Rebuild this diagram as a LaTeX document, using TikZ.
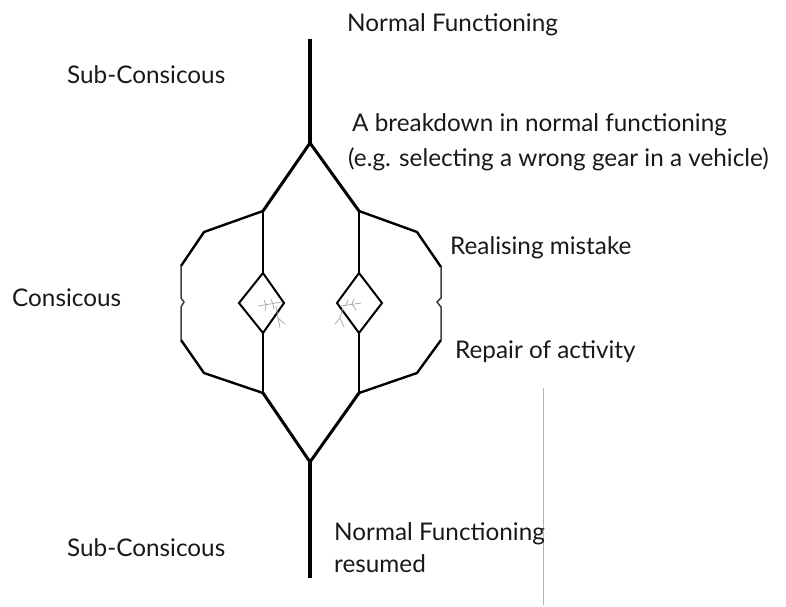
\documentclass[tikz,border=0pt]{standalone}
\usepackage{fontspec}
\setmainfont{Lato}
\begin{document}
\begin{tikzpicture}[x=1pt,y=-1pt,
  trunk/.style={line width=4pt},
  branch/.style={line width=3pt, line join=miter},
  loopline/.style={line width=2.4pt, line join=round},
  thinside/.style={line width=1.5pt, draw=black!75},
  gate/.style={line width=2pt, line join=miter},
  twig/.style={line width=0.7pt, draw=black!35, line cap=round},
  lbl/.style={anchor=base west, inner sep=0pt, font=\fontsize{24.3}{29}\selectfont, text=black!90}]
\useasboundingbox (0,0) rectangle (786,606);

% key points of the path diagram
\coordinate (top) at (310,39);
\coordinate (split) at (310,143);
\coordinate (join) at (310,462);
\coordinate (bottom) at (310,578);
\coordinate (lt) at (263,211);
\coordinate (lb) at (263,393);
\coordinate (rt) at (359,211);
\coordinate (rb) at (359,393);

% left and right gates
\coordinate (ldt) at (263,273);
\coordinate (ldb) at (263,333);
\coordinate (ldl) at (239,303);
\coordinate (ldr) at (284,303);
\coordinate (rdt) at (359,273);
\coordinate (rdb) at (359,333);
\coordinate (rdl) at (337,303);
\coordinate (rdr) at (382,303);

% main stem
\draw[trunk] (top) -- (split);
\draw[trunk] (join) -- (bottom);
\draw[branch] (lt) -- (split) -- (rt);
\draw[branch] (lb) -- (join) -- (rb);

% inner paths through the gates
\draw[loopline] (lt) -- (ldt);
\draw[loopline] (ldb) -- (lb);
\draw[loopline] (rt) -- (rdt);
\draw[loopline] (rdb) -- (rb);
\draw[gate] (ldt) -- (ldr) -- (ldb) -- (ldl) -- cycle;
\draw[gate] (rdt) -- (rdr) -- (rdb) -- (rdl) -- cycle;

% outer detours
\coordinate (lo1) at (204,232);
\coordinate (lo2) at (181,266);
\coordinate (lo3) at (181,340);
\coordinate (lo4) at (204,373);
\coordinate (ro1) at (417,232);
\coordinate (ro2) at (441,267);
\coordinate (ro3) at (441,340);
\coordinate (ro4) at (417,373);
\draw[loopline] (lt) -- (lo1) -- (lo2);
\draw[loopline] (lo3) -- (lo4) -- (lb);
\draw[loopline] (rt) -- (ro1) -- (ro2);
\draw[loopline] (ro3) -- (ro4) -- (rb);
\draw[thinside] (lo2) -- (181,298) -- (184,302) -- (181,307) -- (lo3);
\draw[thinside] (ro2) -- (441,298) -- (437,302) -- (441,307) -- (ro3);

% small twigs inside the gates
\draw[twig] (258,306) -- (282,302);
\draw[twig] (266,305) -- (264,300);
\draw[twig] (266,305) -- (265,311);
\draw[twig] (273,304) -- (271,299);
\draw[twig] (273,304) -- (274,309);
\draw[twig] (276,306) -- (278,318) -- (285,324);
\draw[twig] (278,318) -- (280,328);
\draw[twig] (341,306) -- (361,303);
\draw[twig] (352,304) -- (354,299);
\draw[twig] (352,304) -- (356,310);
\draw[twig] (346,305) -- (348,300);
\draw[twig] (343,308) -- (340,318) -- (335,324);
\draw[twig] (340,318) -- (344,327);

% thin rule on the right
\draw[line width=0.8pt, draw=black!30] (543,388) -- (543,605);

% labels
\node[lbl] (nf) at (347,31) {Normal Functioning};
\node[lbl] (sc1) at (67,83) {Sub-Consicous};
\node[lbl] (bd1) at (352,131) {A breakdown in normal functioning};
\node[lbl] (bd2) at (348,166) {(e.g. selecting a wrong gear in a vehicle)};
\node[lbl] (rm) at (450,254) {Realising mistake};
\node[lbl] (cs) at (12,306) {Consicous};
\node[lbl] (ra) at (455,358) {Repair of activity};
\node[lbl] (nr1) at (334,540) {Normal Functioning};
\node[lbl] (nr2) at (334,572) {resumed};
\node[lbl] (sc2) at (67,556) {Sub-Consicous};
\end{tikzpicture}
\end{document}
